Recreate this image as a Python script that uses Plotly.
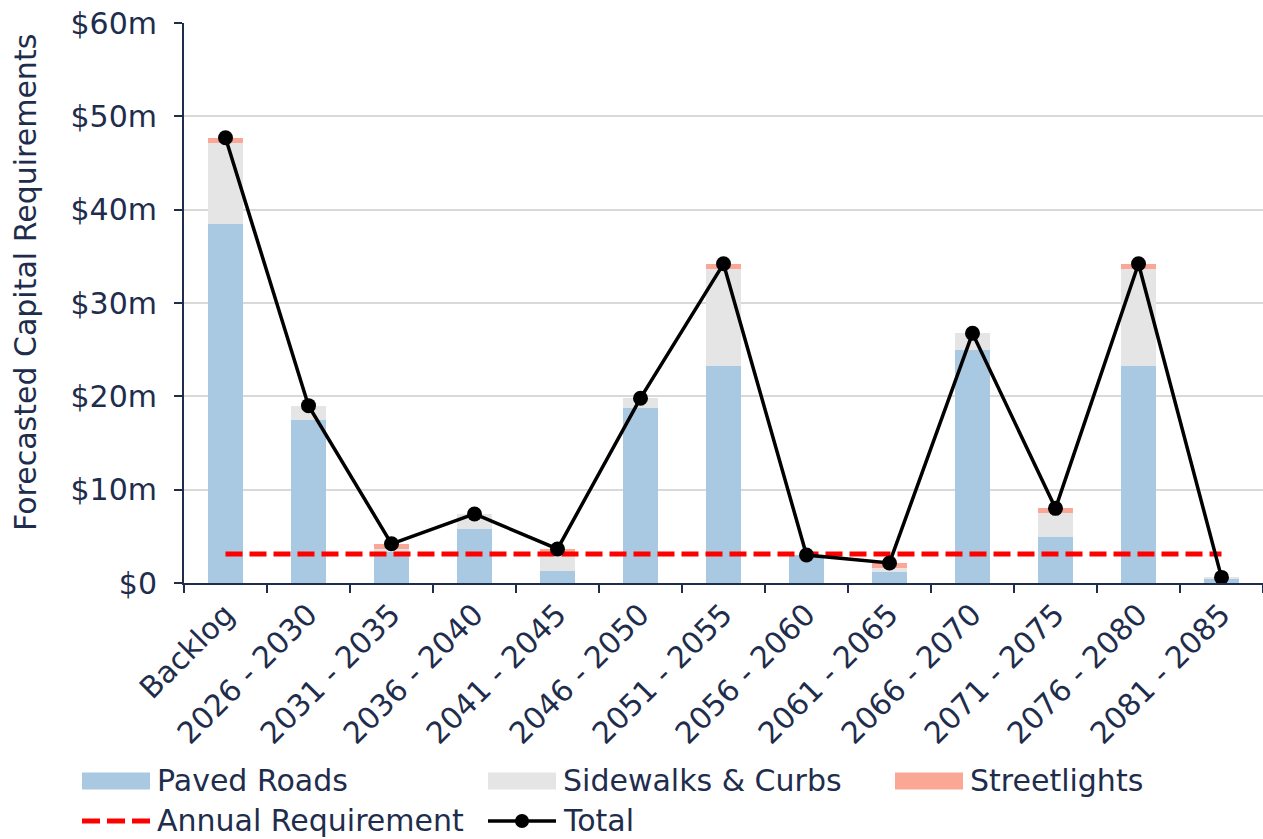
import plotly.graph_objects as go

# Forecast periods
categories = ["Backlog", "2026 - 2030", "2031 - 2035", "2036 - 2040", "2041 - 2045",
              "2046 - 2050", "2051 - 2055", "2056 - 2060", "2061 - 2065", "2066 - 2070",
              "2071 - 2075", "2076 - 2080", "2081 - 2085"]

# Capital requirements by asset class ($ millions)
paved_roads = [38.5, 17.5, 3.4, 5.75, 1.3, 18.75, 23.2, 3.0, 1.2, 25.0, 4.9, 23.2, 0.5]
sidewalks_curbs = [8.6, 1.5, 0.2, 1.65, 2.0, 1.05, 10.4, 0.0, 0.4, 1.75, 2.55, 10.4, 0.1]
streetlights = [0.6, 0.0, 0.6, 0.0, 0.35, 0.0, 0.6, 0.0, 0.55, 0.0, 0.55, 0.6, 0.0]

# Average annual capital requirement ($ millions)
ANNUAL_REQUIREMENT = 3.1

y_tick_values = [0, 10, 20, 30, 40, 50, 60]
y_tick_labels = ["$0", "$10m", "$20m", "$30m", "$40m", "$50m", "$60m"]

totals = [round(p + s + l, 2) for p, s, l in zip(paved_roads, sidewalks_curbs, streetlights)]

NAVY = "#1F2D4D"
C_PAVED = "#A9C8E2"
C_SIDE = "#E5E5E5"
C_LIGHT = "#FBA796"
FONT = "DejaVu Sans"
FS = 30

W, H = 1263, 839
ML, MR, MT, MB = 184, 0, 23, 256
PW, PH = W - ML - MR, H - MT - MB


def px_x(x):
    return (x - ML) / PW


def px_y(y):
    return (H - MB - y) / PH


fig = go.Figure()
fig.add_bar(x=categories, y=paved_roads, name="Paved Roads", marker_color=C_PAVED,
            marker_line_width=0)
fig.add_bar(x=categories, y=sidewalks_curbs, name="Sidewalks & Curbs", marker_color=C_SIDE,
            marker_line_width=0)
fig.add_bar(x=categories, y=streetlights, name="Streetlights", marker_color=C_LIGHT,
            marker_line_width=0)
fig.add_scatter(x=categories, y=[ANNUAL_REQUIREMENT] * len(categories), mode="lines",
                name="Annual Requirement",
                line=dict(color="#FF0000", width=5, dash="17px,7px"))
fig.add_scatter(x=categories, y=totals, mode="lines+markers", name="Total",
                line=dict(color="black", width=3.5),
                marker=dict(color="black", size=15))

# Legend drawn as swatches + labels below the axis
shapes = []
annotations = []
legend_items = [
    ("Paved Roads", "bar", C_PAVED, 82, 781),
    ("Sidewalks & Curbs", "bar", C_SIDE, 488, 781),
    ("Streetlights", "bar", C_LIGHT, 895, 781),
    ("Annual Requirement", "dash", "#FF0000", 82, 821),
    ("Total", "marker", "black", 488, 821),
]
for label, kind, color, x0, yc in legend_items:
    x1 = x0 + 68
    if kind == "bar":
        shapes.append(dict(type="rect", xref="paper", yref="paper",
                           x0=px_x(x0), x1=px_x(x1), y0=px_y(yc + 8.5), y1=px_y(yc - 8.5),
                           fillcolor=color, line_width=0))
    elif kind == "dash":
        shapes.append(dict(type="line", xref="paper", yref="paper",
                           x0=px_x(x0), x1=px_x(x1), y0=px_y(yc), y1=px_y(yc),
                           line=dict(color=color, width=5, dash="18px,7px")))
    else:
        shapes.append(dict(type="line", xref="paper", yref="paper",
                           x0=px_x(x0), x1=px_x(x1), y0=px_y(yc), y1=px_y(yc),
                           line=dict(color=color, width=3.5)))
        cx = (x0 + x1) / 2
        shapes.append(dict(type="circle", xref="paper", yref="paper",
                           x0=px_x(cx - 7), x1=px_x(cx + 7),
                           y0=px_y(yc + 7), y1=px_y(yc - 7),
                           fillcolor=color, line_width=0))
    annotations.append(dict(text=label, xref="paper", yref="paper",
                            x=px_x(x1 + 5), y=px_y(yc - 1), xanchor="left", yanchor="middle",
                            showarrow=False, font=dict(family=FONT, size=FS, color=NAVY)))

annotations.append(dict(text="Forecasted Capital Requirements", xref="paper", yref="paper",
                        x=px_x(25), y=px_y(283), textangle=-90, xanchor="center",
                        yanchor="middle", showarrow=False,
                        font=dict(family=FONT, size=FS, color=NAVY)))

fig.update_layout(
    width=W, height=H,
    margin=dict(l=ML, r=MR, t=MT, b=MB),
    barmode="stack", bargap=0.59,
    plot_bgcolor="white", paper_bgcolor="white",
    showlegend=False,
    font=dict(family=FONT, size=FS, color=NAVY),
    shapes=shapes, annotations=annotations,
)
fig.update_xaxes(
    range=[-0.5, len(categories) - 0.5],
    showline=True, linecolor=NAVY, linewidth=2,
    ticks="outside", tickson="boundaries", ticklen=8, tickcolor=NAVY, tickwidth=2,
    tickangle=-45, tickfont=dict(family=FONT, size=FS, color=NAVY),
    showgrid=False,
)
fig.update_yaxes(
    range=[0, 60], tickvals=y_tick_values, ticktext=y_tick_labels,
    showline=True, linecolor=NAVY, linewidth=2,
    ticks="outside", ticklen=8, tickcolor=NAVY, tickwidth=2,
    ticklabelstandoff=11,
    showgrid=True, gridcolor="#D9D9D9", gridwidth=2, zeroline=False,
    tickfont=dict(family=FONT, size=FS, color=NAVY),
)

fig.write_html("out.html")
